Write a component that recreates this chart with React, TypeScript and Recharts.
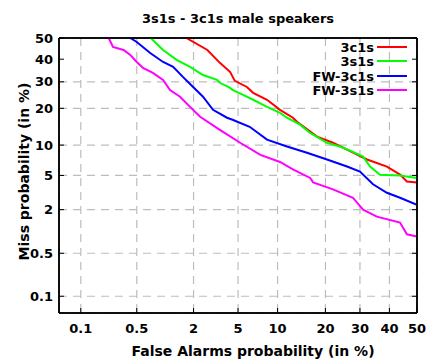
import React from 'react';
import { LineChart, Line, XAxis, YAxis, CartesianGrid, Legend, Label } from 'recharts';

// ---- data (percent values) ----
const fa3c1s = [1.7, 2.7, 3.5, 4.3, 4.7, 5.9, 6.6, 8.4, 10.4, 12.7, 13.5, 17.9, 22.0, 26.0, 32.3, 39.1, 43.8, 46.3, 50];
const miss3c1s = [50, 44.3, 38.3, 34.2, 30.4, 27.9, 25.6, 23.0, 19.5, 17.0, 15.8, 11.9, 10.5, 9.1, 7.3, 6.2, 5.1, 4.3, 4.2];

const fa3s1s = [0.72, 0.98, 1.37, 1.85, 2.46, 3.3, 3.5, 4.3, 4.5, 5.5, 6.6, 8.4, 10.4, 11.6, 14.1, 16.3, 20.4, 24.8, 31.0, 33.3, 36.7, 43.8, 50];
const miss3s1s = [50, 44.3, 39.6, 36.5, 32.9, 30.8, 29.6, 27.5, 26.7, 24.8, 23.0, 20.5, 18.5, 17.0, 15.0, 12.8, 10.5, 9.5, 7.8, 6.2, 5.1, 5.0, 4.7];

const faFw3c1s = [0.42, 0.5, 0.71, 0.98, 1.25, 1.57, 1.98, 2.46, 3.04, 4.04, 4.5, 6.2, 8.4, 11.6, 15.6, 20.4, 26.0, 30.0, 34.3, 39.1, 43.8, 50];
const missFw3c1s = [50, 48.1, 42.9, 38.7, 36.5, 32.1, 27.9, 24.1, 19.5, 17.0, 16.4, 14.4, 11.2, 9.7, 8.5, 7.3, 6.2, 5.5, 4.0, 3.2, 2.8, 2.3];

const faFw3s1s = [0.23, 0.26, 0.35, 0.42, 0.5, 0.59, 0.76, 0.98, 1.16, 1.47, 1.85, 2.31, 3.5, 5.2, 7.5, 10.4, 12.7, 16.3, 17.0, 22.0, 27.8, 31.0, 35.6, 43.8, 46.3, 50];
const missFw3s1s = [50, 45.7, 44.3, 42.0, 38.7, 36.0, 33.8, 30.8, 26.7, 24.1, 20.5, 17.3, 13.6, 10.5, 8.1, 6.9, 5.8, 4.7, 4.2, 3.5, 2.8, 2.0, 1.63, 1.36, 0.94, 0.88];

const seriesNames = ['3c1s', '3s1s', 'FW-3c1s', 'FW-3s1s'];
const seriesColors = ['#ff0000', '#00ff00', '#0000ff', '#ff00ff'];

const xTickLabels = ['0.1', '0.5', '2', '5', '10', '20', '30', '40', '50'];
const yTickLabels = ['0.1', '0.5', '2', '5', '10', '20', '30', '40', '50'];
const axisMinPercent = 0.05;
const axisMaxPercent = 50;
const chartTitle = '3s1s - 3c1s male speakers';

// ---- normal-deviate (probit) scale transform ----
function probit(p: number): number {
  const a = [-3.969683028665376e1, 2.209460984245205e2, -2.759285104469687e2, 1.38357751867269e2, -3.066479806614716e1, 2.506628277459239];
  const b = [-5.447609879822406e1, 1.615858368580409e2, -1.556989798598866e2, 6.680131188771972e1, -1.328068155288572e1];
  const c = [-7.784894002430293e-3, -3.223964580411365e-1, -2.400758277161838, -2.549732539343734, 4.374664141464968, 2.938163982698783];
  const d = [7.784695709041462e-3, 3.224671290700398e-1, 2.445134137142996, 3.754408661907416];
  const plow = 0.02425;
  if (p <= 0) return -8;
  if (p >= 1) return 8;
  if (p < plow) {
    const q = Math.sqrt(-2 * Math.log(p));
    return (((((c[0] * q + c[1]) * q + c[2]) * q + c[3]) * q + c[4]) * q + c[5]) /
      ((((d[0] * q + d[1]) * q + d[2]) * q + d[3]) * q + 1);
  }
  if (p <= 1 - plow) {
    const q = p - 0.5;
    const r = q * q;
    return (((((a[0] * r + a[1]) * r + a[2]) * r + a[3]) * r + a[4]) * r + a[5]) * q /
      (((((b[0] * r + b[1]) * r + b[2]) * r + b[3]) * r + b[4]) * r + 1);
  }
  const q = Math.sqrt(-2 * Math.log(1 - p));
  return -(((((c[0] * q + c[1]) * q + c[2]) * q + c[3]) * q + c[4]) * q + c[5]) /
    ((((d[0] * q + d[1]) * q + d[2]) * q + d[3]) * q + 1);
}

const pct = (v: number) => probit(v / 100);
const AX_MIN = pct(axisMinPercent);
const AX_MAX = pct(axisMaxPercent);
const xTicks = xTickLabels.map((l) => pct(parseFloat(l)));
const yTicks = yTickLabels.map((l) => pct(parseFloat(l)));

const fmt = (labels: string[], ticks: number[]) => (v: number) => {
  let best = 0;
  ticks.forEach((t, i) => {
    if (Math.abs(t - v) < Math.abs(ticks[best] - v)) best = i;
  });
  return labels[best];
};
const blank = () => '';

const buildSeries = (fa: number[], miss: number[]) => fa.map((f, i) => ({ x: pct(f), y: pct(miss[i]) }));
const seriesData = [
  buildSeries(fa3c1s, miss3c1s),
  buildSeries(fa3s1s, miss3s1s),
  buildSeries(faFw3c1s, missFw3c1s),
  buildSeries(faFw3s1s, missFw3s1s),
];

const FONT = '"DejaVu Sans", Verdana, sans-serif';
const tickStyle = { fontSize: 13, fontWeight: 'bold' as const, fill: '#000', fontFamily: FONT };
const frameLine = { stroke: '#000', strokeWidth: 1.5 };

// frame of the plot area, taken from the chart's own computed offset
const frameH = ({ offset }: any) => [offset.top, offset.top + offset.height];
const frameV = ({ offset }: any) => [offset.left, offset.left + offset.width];

const renderLegend = () => (
  <div style={{ fontFamily: FONT, fontSize: 13, fontWeight: 'bold', color: '#000' }}>
    {seriesNames.map((n, i) => (
      <div key={n} style={{ display: 'flex', justifyContent: 'flex-end', alignItems: 'center', height: 14.3 }}>
        <span style={{ lineHeight: '14px' }}>{n}</span>
        <span style={{ display: 'inline-block', width: 30, height: 2, background: seriesColors[i], marginLeft: 3, marginRight: 3, position: 'relative', top: -1 }} />
      </div>
    ))}
  </div>
);

export default function App() {
  return (
    <div style={{ position: 'absolute', left: 0, top: 0, width: 430, height: 361, background: '#fff' }}>
      <LineChart width={430} height={361} margin={{ top: 37, right: 12, bottom: 18, left: 20 }}>
        <CartesianGrid stroke="#bdbdbd" strokeWidth={1.2} strokeDasharray="8 6" />
        <CartesianGrid
          stroke="#000"
          strokeWidth={1.5}
          horizontalCoordinatesGenerator={frameH}
          verticalCoordinatesGenerator={frameV}
        />
        <XAxis
          dataKey="x"
          type="number"
          domain={[AX_MIN, AX_MAX]}
          ticks={xTicks}
          tickFormatter={fmt(xTickLabels, xTicks)}
          allowDataOverflow
          height={30}
          tickSize={-5}
          tickMargin={16}
          tick={tickStyle}
          axisLine={frameLine}
          tickLine={{ stroke: '#000' }}
        >
          <Label value="False Alarms probability (in %)" position="bottom" offset={3} dx={15} style={{ fontSize: 14, fontWeight: 'bold', fill: '#000', fontFamily: FONT }} />
        </XAxis>
        <XAxis
          xAxisId="top"
          orientation="top"
          type="number"
          domain={[AX_MIN, AX_MAX]}
          ticks={xTicks}
          tickFormatter={blank}
          allowDataOverflow
          height={1}
          tickSize={-5}
          tickMargin={0}
          tick={tickStyle}
          axisLine={frameLine}
          tickLine={{ stroke: '#000' }}
        >
          <Label value={chartTitle} position="top" offset={14.5} style={{ fontSize: 13, fontWeight: 'bold', fill: '#000', fontFamily: FONT }} />
        </XAxis>
        <YAxis
          type="number"
          domain={[AX_MIN, AX_MAX]}
          ticks={yTicks}
          tickFormatter={fmt(yTickLabels, yTicks)}
          allowDataOverflow
          width={39}
          tickSize={-5}
          tickMargin={11}
          tick={tickStyle}
          axisLine={frameLine}
          tickLine={{ stroke: '#000' }}
        >
          <Label value="Miss probability (in %)" angle={-90} position="insideLeft" offset={4} dy={-4} style={{ fontSize: 14, fontWeight: 'bold', fill: '#000', fontFamily: FONT, textAnchor: 'middle' }} />
        </YAxis>
        <YAxis
          yAxisId="right"
          orientation="right"
          type="number"
          domain={[AX_MIN, AX_MAX]}
          ticks={yTicks}
          tickFormatter={blank}
          allowDataOverflow
          width={1}
          tickSize={-5}
          tickMargin={0}
          tick={tickStyle}
          axisLine={frameLine}
          tickLine={{ stroke: '#000' }}
        />
        <Legend
          content={renderLegend}
          layout="vertical"
          align="center"
          verticalAlign="middle"
          wrapperStyle={{ left: 250, top: 41, width: 160 }}
        />
        {seriesData.map((d, i) => (
          <Line
            key={seriesNames[i]}
            data={d}
            dataKey="y"
            name={seriesNames[i]}
            type="linear"
            stroke={seriesColors[i]}
            strokeWidth={2}
            dot={false}
            isAnimationActive={false}
          />
        ))}
      </LineChart>
    </div>
  );
}
